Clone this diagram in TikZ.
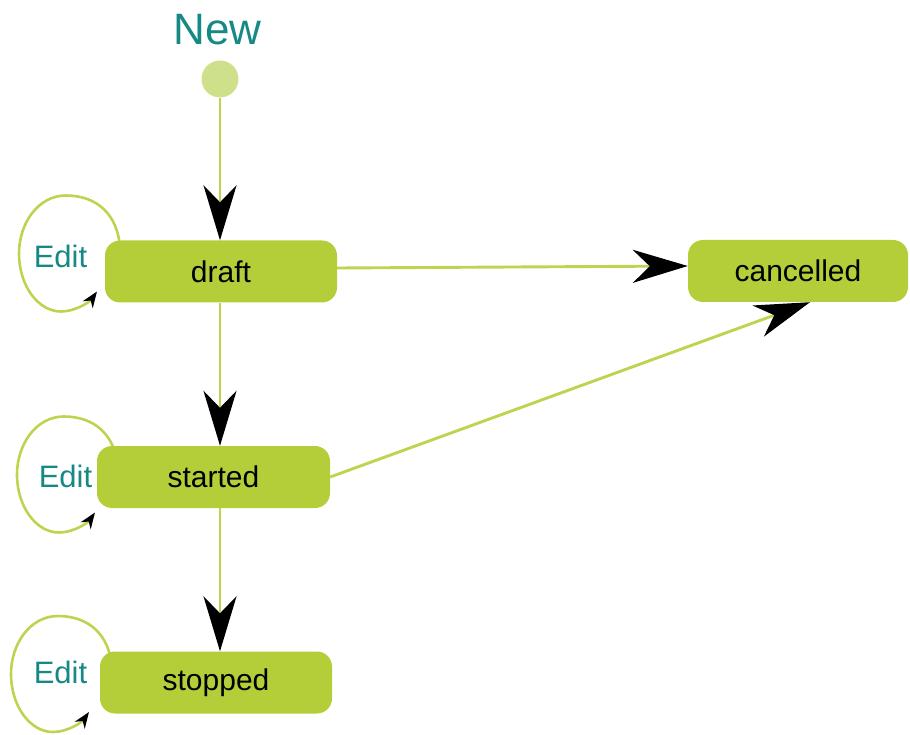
\documentclass[tikz,border=0pt]{standalone}
\usepackage{fontspec}
\setmainfont{Liberation Sans}
\usetikzlibrary{arrows.meta,calc}

\definecolor{boxfill}{RGB}{180,206,58}
\definecolor{edgecol}{RGB}{188,213,80}
\definecolor{initcol}{RGB}{207,224,138}
\definecolor{tealtxt}{RGB}{22,137,133}

\tikzset{
  state/.style={draw=none, fill=boxfill, rounded corners=15pt,
    minimum height=62pt, inner sep=0pt,
    font=\fontsize{30pt}{34pt}\selectfont, text=black},
  initial/.style={circle, fill=initcol, minimum size=37pt, inner sep=0pt},
  transition/.style={draw=edgecol, line width=2.9pt,
    -{Stealth[length=55pt, width=33pt, inset=17pt, fill=black, color=black]}},
  loopline/.style={draw=edgecol, line width=2.6pt,
    -{Stealth[length=16pt, width=12pt, inset=5pt, fill=black, color=black]}},
  looplabel/.style={anchor=base, text=tealtxt,
    font=\fontsize{31pt}{35pt}\selectfont},
  editloop/.pic={
    \draw[loopline] (54,-5) .. controls (52,-40) and (30,-58) .. (0,-58)
      .. controls (-28,-58) and (-47,-30) .. (-47,0)
      .. controls (-47,32) and (-28,58) .. (-5,58)
      .. controls (10,58) and (24,48) .. (31,38);
  }
}

\begin{document}
\begin{tikzpicture}[x=1pt, y=-1pt]
  \useasboundingbox (0,0) rectangle (910,735);

  % self-transitions drawn first so the state boxes cover their starts
  \pic at (66,253.5) {editloop};
  \pic at (64,474.5) {editloop};
  \pic at (58,674) {editloop};

  % initial pseudo-state
  \node[anchor=base, text=tealtxt, font=\fontsize{44pt}{50pt}\selectfont]
    (newlabel) at (217.5,45) {New};
  \node[initial] (init) at (220,79) {};

  % states
  \node[state, minimum width=232pt] (draft) at (221,271.5) {draft};
  \node[state, minimum width=220pt] (cancelled) at (798,271) {cancelled};
  \node[state, minimum width=233pt] (started) at (213.5,477) {started};
  \node[state, minimum width=232pt] (stopped) at (216,682.5) {stopped};

  % loop labels
  \node[looplabel] (edit1) at (60.5,268) {Edit};
  \node[looplabel] (edit2) at (65.5,487) {Edit};
  \node[looplabel] (edit3) at (60.5,683) {Edit};

  % transitions
  \draw[transition] (init) -- (init |- draft.north);
  \draw[transition] ([yshift=3.5pt]draft.east) -- ([yshift=5pt]cancelled.west);
  \draw[transition] (init |- draft.south) -- (init |- started.north);
  \draw[transition] (started.east) -- ([xshift=12pt]cancelled.south);
  \draw[transition] (init |- started.south) -- (init |- stopped.north);
\end{tikzpicture}
\end{document}
